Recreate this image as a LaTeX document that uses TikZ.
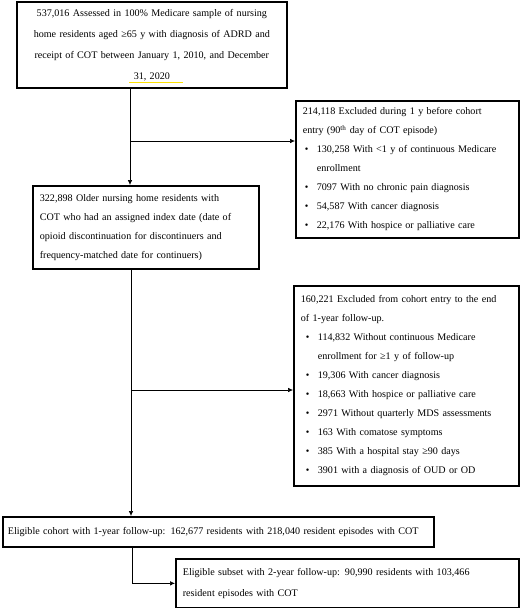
\documentclass[tikz,border=0pt]{standalone}
\usepackage{fontspec}
\setmainfont{Liberation Serif}
\usetikzlibrary{arrows.meta}

% bullet line and its continuation
\newcommand{\bitem}[2]{\hspace*{#1}\makebox[12pt][l]{\textbullet}#2}
\newcommand{\bcont}[2]{\hspace*{#1}\hspace*{12pt}#2}

\tikzset{
  flowbox/.style={draw, line width=1.7pt, anchor=north west, inner xsep=7pt, inner ysep=3pt,
    align=left, font=\fontsize{10.1}{19}\selectfont},
  flowarrow/.style={-{Latex[length=5pt,width=4.5pt]}, line width=0.6pt},
}

\begin{document}
\begin{tikzpicture}[x=1pt,y=1pt,yscale=-1]
\useasboundingbox (0,0) rectangle (520,608);
%Shape: Rectangle [start]
\node[flowbox, align=center, text width=256pt, minimum width=270pt, minimum height=86pt,
  font=\fontsize{10.1}{21}\selectfont] (start) at (16,1)
  {537,016 Assessed in 100\% Medicare sample of nursing\\
   home residents aged ≥65 y with diagnosis of ADRD and\\
   receipt of COT between January 1, 2010, and December\\
   31, 2020};
%Straight Lines: mark under last line
\draw[yellow!85!orange, line width=0.5pt] (129,82.5) -- (183,82.5);
%Shape: Rectangle [excl1]
\node[flowbox, text width=209pt, minimum width=223pt, minimum height=137pt] (excl1) at (295,100)
  {214,118 Excluded during 1 y before cohort\\
   entry (90\textsuperscript{th} day of COT episode)\\
   \bitem{2pt}{130,258 With <1 y of continuous Medicare}\\
   \bcont{2pt}{enrollment}\\
   \bitem{2pt}{7097 With no chronic pain diagnosis}\\
   \bitem{2pt}{54,587 With cancer diagnosis}\\
   \bitem{2pt}{22,176 With hospice or palliative care}};
%Shape: Rectangle [index]
\node[flowbox, text width=212pt, minimum width=226pt, minimum height=83pt] (index) at (32,185)
  {322,898 Older nursing home residents with\\
   COT who had an assigned index date (date of\\
   opioid discontinuation for discontinuers and\\
   frequency-matched date for continuers)};
%Shape: Rectangle [excl2]
\node[flowbox, text width=211pt, minimum width=225pt, minimum height=200pt] (excl2) at (293,285)
  {160,221 Excluded from cohort entry to the end\\
   of 1-year follow-up.\\
   \bitem{5pt}{114,832 Without continuous Medicare}\\
   \bcont{5pt}{enrollment for ≥1 y of follow-up}\\
   \bitem{5pt}{19,306 With cancer diagnosis}\\
   \bitem{5pt}{18,663 With hospice or palliative care}\\
   \bitem{5pt}{2971 Without quarterly MDS assessments}\\
   \bitem{5pt}{163 With comatose symptoms}\\
   \bitem{5pt}{385 With a hospital stay ≥90 days}\\
   \bitem{5pt}{3901 with a diagnosis of OUD or OD}};
%Shape: Rectangle [cohort1]
\node[flowbox, text width=421pt, inner xsep=5pt, minimum width=431pt, minimum height=30pt] (cohort1) at (2,516)
  {Eligible cohort with 1-year follow-up: 162,677 residents with 218,040 resident episodes with COT};
%Shape: Rectangle [cohort2]
\node[flowbox, text width=329pt, minimum width=343pt, minimum height=49pt,
  font=\fontsize{10.1}{21}\selectfont] (cohort2) at (175,558)
  {Eligible subset with 2-year follow-up: 90,990 residents with 103,466\\
   resident episodes with COT};

% main flow line
\coordinate (spine) at (130,0);
\coordinate (split1) at (130,141);
\coordinate (split2) at (131,390);
\draw[flowarrow] (start.south -| spine) -- (index.north -| spine);
\draw[flowarrow] (split1) -- (split1 -| excl1.west);
\draw[flowarrow] (index.south -| split2) -- (cohort1.north -| split2);
\draw[flowarrow] (split2) -- (split2 -| excl2.west);
\draw[flowarrow] (cohort1.south -| 132,0) |- (cohort2.west);
\end{tikzpicture}
\end{document}
